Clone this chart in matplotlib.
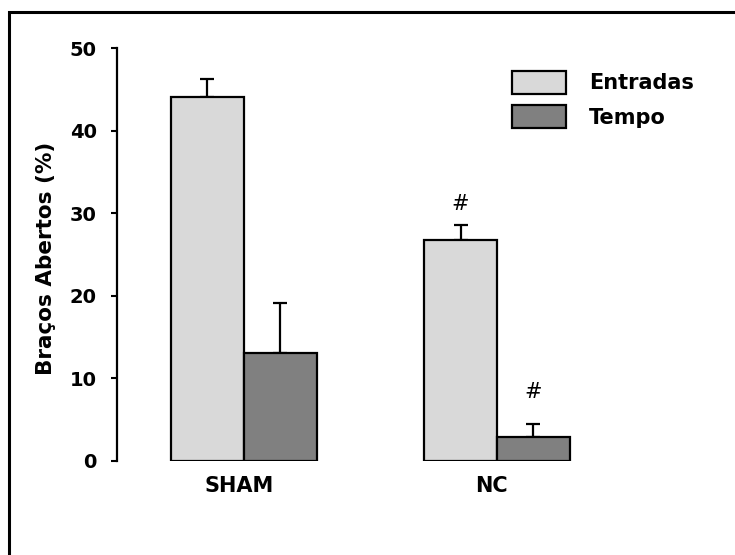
import numpy as np
import matplotlib.pyplot as plt
from matplotlib.patches import Rectangle

# data
groups = ['SHAM', 'NC']
entradas = [44.1, 26.8]
entradas_err = [2.2, 1.8]
tempo = [13.1, 2.9]
tempo_err = [6.0, 1.5]
sig_entradas = ['', '#']
sig_tempo = ['', '#']

plt.rcParams['font.family'] = 'DejaVu Sans'
plt.rcParams['font.weight'] = 'bold'

fig = plt.figure(figsize=(7.35, 5.55), dpi=100)
ax = fig.add_axes([0.1588, 0.1699, 0.82, 0.7432])

x = np.arange(len(groups))
w = 0.288
ax.bar(x - w/2, entradas, w, color='#d9d9d9', edgecolor='black', linewidth=1.6, label='Entradas', zorder=2)
ax.bar(x + w/2, tempo, w, color='#808080', edgecolor='black', linewidth=1.6, label='Tempo', zorder=2)
ax.errorbar(x - w/2, entradas, yerr=[np.zeros(2), entradas_err], fmt='none', ecolor='black',
            elinewidth=1.6, capsize=5, capthick=1.6, zorder=1)
ax.errorbar(x + w/2, tempo, yerr=[np.zeros(2), tempo_err], fmt='none', ecolor='black',
            elinewidth=1.6, capsize=5, capthick=1.6, zorder=1)

# significance marks above the error bars
for xi, v, e, s in zip(x - w/2, entradas, entradas_err, sig_entradas):
    if s:
        ax.annotate(s, (xi, v + e), xytext=(0, 8), textcoords='offset points',
                    ha='center', va='bottom', fontsize=15, fontweight='normal')
for xi, v, e, s in zip(x + w/2, tempo, tempo_err, sig_tempo):
    if s:
        ax.annotate(s, (xi, v + e), xytext=(0, 16), textcoords='offset points',
                    ha='center', va='bottom', fontsize=15, fontweight='normal')

ax.set_ylim(0, 50)
ax.set_xlim(-0.5026, 1.879)
ax.set_yticks([0, 10, 20, 30, 40, 50])
# group labels sit a little left of the group centres in the original
ax.set_xticks(x - 0.02)
ax.set_xticklabels(groups, fontsize=15, fontweight='bold')
ax.tick_params(axis='y', direction='out', length=4.5, width=1.5, pad=10, labelsize=14)
ax.tick_params(axis='x', length=0, pad=11)
for sp in ['top', 'right', 'bottom']:
    ax.spines[sp].set_visible(False)
ax.spines['left'].set_linewidth(1.6)
ax.set_ylabel('Braços Abertos (%)', fontsize=15.5, fontweight='bold')
ax.yaxis.set_label_coords(-0.1, 0.49)

ax.legend(loc='upper left', bbox_to_anchor=(0.625, 0.99), frameon=False, fontsize=15,
          handlelength=2.6, handleheight=1.3, handletextpad=1.1, labelspacing=0.55)

# outer frame around the figure
fig.patches.append(Rectangle((9/735, -0.1), 1.2, 1 - 12/555 + 0.1, transform=fig.transFigure,
                             fill=False, edgecolor='black', linewidth=2.2))

fig.savefig('out.png', dpi=100)
